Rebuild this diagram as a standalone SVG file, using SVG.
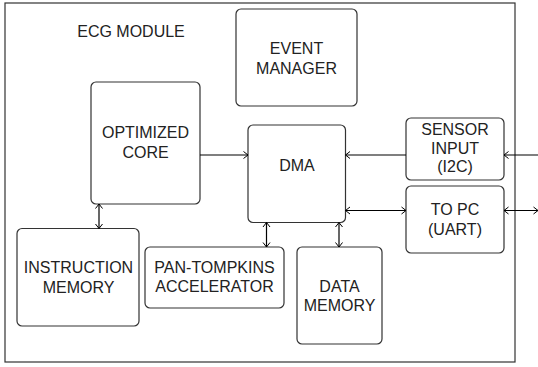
<svg xmlns="http://www.w3.org/2000/svg" width="538" height="367" viewBox="0 0 538 367">
<defs>
<marker id="ah" markerUnits="userSpaceOnUse" markerWidth="8" markerHeight="10" refX="5" refY="4" orient="auto-start-reverse" overflow="visible">
<path d="M0.5,0.5 L5,4 L0.5,7.5" fill="none" stroke="#000" stroke-width="1"/>
</marker>
<style>
.box{fill:#fff;stroke:#333;stroke-width:1.2}
.t{font-family:"Liberation Sans",Arial,sans-serif;font-size:16px;fill:#222;text-anchor:middle}
.c{fill:none;stroke:#000;stroke-width:1.2}
</style>
</defs>
<rect width="538" height="367" fill="#fff"/>
<g id="module">
<rect x="5" y="3" width="510" height="359" fill="none" stroke="#333" stroke-width="1.2"/>
<text class="t" x="131" y="37">ECG MODULE</text>
</g>
<g id="event-manager">
<rect class="box" x="236" y="9" width="121" height="97" rx="5"/>
<text class="t" x="296.5" y="53.5">EVENT</text>
<text class="t" x="296.5" y="73.5">MANAGER</text>
</g>
<g id="core">
<rect class="box" x="91" y="82" width="109" height="122" rx="5"/>
<text class="t" x="145.5" y="138">OPTIMIZED</text>
<text class="t" x="145.5" y="158">CORE</text>
</g>
<g id="dma">
<rect class="box" x="248" y="125" width="97.5" height="97.5" rx="5"/>
<text class="t" x="297" y="171">DMA</text>
</g>
<g id="sensor">
<rect class="box" x="406" y="118" width="98" height="62" rx="5"/>
<text class="t" x="455" y="135">SENSOR</text>
<text class="t" x="455" y="153.5">INPUT</text>
<text class="t" x="455" y="172">(I2C)</text>
</g>
<g id="topc">
<rect class="box" x="406" y="186" width="98" height="67" rx="5"/>
<text class="t" x="455" y="215">TO PC</text>
<text class="t" x="455" y="234.5">(UART)</text>
</g>
<g id="instruction-memory">
<rect class="box" x="17" y="228.5" width="122" height="97.5" rx="5"/>
<text class="t" x="78.5" y="273">INSTRUCTION</text>
<text class="t" x="78.5" y="293">MEMORY</text>
</g>
<g id="pan-tompkins">
<rect class="box" x="145" y="247" width="139" height="61" rx="5"/>
<text class="t" x="214.5" y="273">PAN-TOMPKINS</text>
<text class="t" x="214.5" y="292">ACCELERATOR</text>
</g>
<g id="data-memory">
<rect class="box" x="297" y="247" width="85" height="97" rx="5"/>
<text class="t" x="339.5" y="292">DATA</text>
<text class="t" x="339.5" y="310.5">MEMORY</text>
</g>
<g id="connectors">
<line class="c" x1="200" y1="155" x2="248" y2="155" marker-end="url(#ah)"/>
<line class="c" x1="406" y1="155" x2="345.5" y2="155" marker-end="url(#ah)"/>
<line class="c" x1="538" y1="155" x2="504" y2="155" marker-end="url(#ah)"/>
<line class="c" x1="345.5" y1="210.5" x2="406" y2="210.5" marker-start="url(#ah)" marker-end="url(#ah)"/>
<line class="c" x1="504" y1="210.5" x2="538" y2="210.5" marker-start="url(#ah)" marker-end="url(#ah)"/>
<line class="c" x1="99" y1="204" x2="99" y2="228.5" marker-start="url(#ah)" marker-end="url(#ah)"/>
<line class="c" x1="266.5" y1="222.5" x2="266.5" y2="247" marker-start="url(#ah)" marker-end="url(#ah)"/>
<line class="c" x1="339" y1="222.5" x2="339" y2="247" marker-start="url(#ah)" marker-end="url(#ah)"/>
</g>
</svg>
